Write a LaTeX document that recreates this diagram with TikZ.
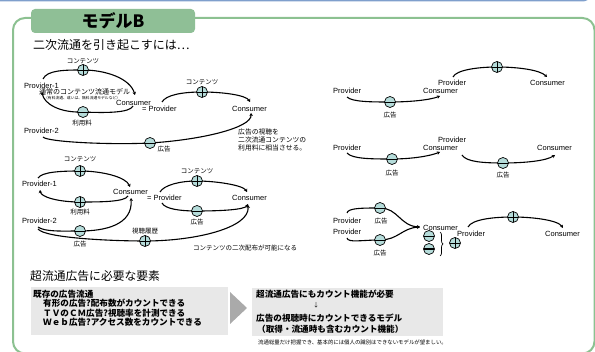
\documentclass[tikz,border=0pt]{standalone}
\usepackage{fontspec}
\setmainfont{Liberation Sans}
\newfontfamily\jp{Noto Sans CJK JP}
\usetikzlibrary{arrows.meta,decorations.pathreplacing}
\definecolor{gline}{HTML}{8CC191}
\definecolor{tabg}{HTML}{8FBF96}
\definecolor{bline}{HTML}{7F9FCC}
\definecolor{cfill}{HTML}{B5DCDA}
\definecolor{boxg}{HTML}{E8E8E8}
\definecolor{arrg}{HTML}{AAAAAA}
\tikzset{
 lbl/.style={font=\fontsize{7.5}{8}\selectfont, inner sep=0, anchor=west},
 jl/.style={font=\jp\fontsize{6.5}{7}\selectfont, inner sep=0},
 flow/.style={line width=1.1pt, -{Stealth[length=3pt,width=3.5pt]}},
 sym/.style={circle, draw, fill=cfill, minimum size=11pt, inner sep=0, line width=0.7pt},
 plusc/.style={sym, path picture={\draw[line width=0.8pt] (path picture bounding box.north) -- (path picture bounding box.south) (path picture bounding box.west) -- (path picture bounding box.east);}},
 minusc/.style={sym, path picture={\draw[line width=0.8pt] (path picture bounding box.west) -- (path picture bounding box.east);}},
 bminusc/.style={sym, path picture={\draw[line width=2pt] (path picture bounding box.west) -- (path picture bounding box.east);}},
 boxt/.style={font=\jp\bfseries\fontsize{8.6}{9}\selectfont, inner sep=0, anchor=west},
 greybox/.style={fill=boxg, inner sep=0},
}
\begin{document}
\begin{tikzpicture}[x=1pt,y=-1pt]
\useasboundingbox (0,0) rectangle (595,352);
% frame
\draw[bline, line width=2pt] (0,0.5) -- (582,0.5) to[out=0,in=240] (590,-4);
\draw[gline, line width=2pt, rounded corners=12pt] (13,18) rectangle (594.5,353.5);
\node[fill=tabg, rounded corners=4pt, minimum width=164pt, minimum height=24pt, inner sep=0] (tab) at (113,21) {};
\node[font=\jp\bfseries\fontsize{17}{18}\selectfont, inner sep=0] (tabt) at (113,21) {モデルB};
\node[font=\jp\fontsize{12}{13}\selectfont, inner sep=0, anchor=west] (title) at (33,45) {二次流通を引き起こすには…};

% ---------- top-left diagram ----------
\coordinate (c1) at (83,70);
\coordinate (m1) at (83,112);
\coordinate (m2) at (150,143);
\coordinate (c2) at (202,92);
\coordinate (u1s) at (43,79); \coordinate (u1e) at (135,95);
\coordinate (l1s) at (133,106); \coordinate (l1e) at (42,92);
\coordinate (p2s) at (43,137); \coordinate (p2e) at (251,113);
\coordinate (q1s) at (162,102); \coordinate (q1e) at (250,102);
\draw[flow] (u1s) .. controls (47,70) and (65,70) .. (c1) .. controls (105,70) and (130,78) .. (u1e);
\draw[flow] (l1s) .. controls (130,113) and (105,113) .. (m1) .. controls (60,113) and (44,104) .. (l1e);
\draw[flow] (p2s) .. controls (47,142) and (110,145) .. (m2) .. controls (200,140) and (252,128) .. (p2e);
\draw[flow] (q1s) .. controls (166,95) and (182,92) .. (c2) .. controls (222,92) and (246,95) .. (q1e);
\node[plusc] (c1n) at (c1) {};
\node[minusc] (m1n) at (m1) {};
\node[minusc] (m2n) at (m2) {};
\node[plusc] (c2n) at (c2) {};
\node[jl] (t1) at (83,61) {コンテンツ};
\node[lbl] (pv1) at (24,86) {Provider-1};
\node[font=\jp\fontsize{7}{8}\selectfont, inner sep=0, anchor=west] (nm) at (39,92) {通常のコンテンツ流通モデル};
\node[font=\jp\fontsize{3.8}{4}\selectfont, inner sep=0, anchor=west] (nms) at (44,98.5) {（有料流通、或いは、無料流通モデルなど）};
\node[lbl] (cs1) at (116,103) {Consumer};
\node[lbl] (eq1) at (142,109) {= Provider};
\node[jl] (r1) at (82,123) {利用料};
\node[lbl] (pv2) at (24,131) {Provider-2};
\node[jl] (ad1) at (164,149) {広告};
\node[jl] (t2) at (202,82) {コンテンツ};
\node[lbl] (cs2) at (232,109) {Consumer};
\node[font=\jp\fontsize{6.8}{8}\selectfont, inner sep=0, anchor=west] (n1a) at (238,132) {広告の視聴を};
\node[font=\jp\fontsize{6.8}{8}\selectfont, inner sep=0, anchor=west] (n1b) at (238,140) {二次流通コンテンツの};
\node[font=\jp\fontsize{6.8}{8}\selectfont, inner sep=0, anchor=west] (n1c) at (238,148) {利用料に相当させる。};

% ---------- second left diagram ----------
\coordinate (c3) at (80,171);
\coordinate (c4) at (80,202);
\coordinate (m3) at (80,231);
\coordinate (c5) at (145,241);
\coordinate (c6) at (197,181);
\coordinate (m4) at (197,211);
\coordinate (u2s) at (38,178); \coordinate (u2e) at (130,187);
\coordinate (l2s) at (128,196); \coordinate (l2e) at (40,190);
\coordinate (a2s) at (38,227); \coordinate (a2e) at (131,198);
\coordinate (v2s) at (38,229); \coordinate (v2e) at (248,205);
\coordinate (r2s) at (160,192); \coordinate (r2e) at (247,192);
\coordinate (s2s) at (162,203); \coordinate (s2e) at (248,204);
\draw[flow] (u2s) .. controls (42,172) and (60,171) .. (c3) .. controls (102,171) and (126,177) .. (u2e);
\draw[flow] (l2s) .. controls (125,202) and (100,202) .. (c4) .. controls (58,202) and (41,197) .. (l2e);
\draw[flow] (a2s) .. controls (45,232) and (62,231) .. (m3) .. controls (105,231) and (133,225) .. (a2e);
\draw[flow] (v2s) .. controls (45,238) and (110,241) .. (c5) .. controls (195,241) and (250,228) .. (v2e);
\draw[flow] (r2s) .. controls (164,185) and (180,181) .. (c6) .. controls (215,181) and (243,185) .. (r2e);
\draw[flow] (s2s) .. controls (165,209) and (180,211) .. (m4) .. controls (218,211) and (245,210) .. (s2e);
\node[plusc] (c3n) at (c3) {};
\node[plusc] (c4n) at (c4) {};
\node[minusc] (m3n) at (m3) {};
\node[plusc] (c5n) at (c5) {};
\node[plusc] (c6n) at (c6) {};
\node[minusc] (m4n) at (m4) {};
\node[jl] (t3) at (80,159) {コンテンツ};
\node[lbl] (pv3) at (22,184) {Provider-1};
\node[jl] (r2) at (80,212) {利用料};
\node[lbl] (cs3) at (113,192) {Consumer};
\node[lbl] (eq2) at (147,198) {= Provider};
\node[lbl] (pv4) at (22,221) {Provider-2};
\node[jl] (ad2) at (80,244) {広告};
\node[jl] (vh) at (145,231) {視聴履歴};
\node[jl] (t4) at (197,171) {コンテンツ};
\node[lbl] (cs4) at (232,198) {Consumer};
\node[jl] (ad3) at (197,222) {広告};
\node[jl, anchor=west] (n2) at (193,248) {コンテンツの二次配布が可能になる};

% ---------- right diagram 1 ----------
\coordinate (m5) at (390,102);
\coordinate (c7) at (497,67);
\coordinate (ra1s) at (347,97); \coordinate (ra1e) at (440,96);
\coordinate (rb1s) at (453,77); \coordinate (rb1e) at (547,77);
\draw[flow] (ra1s) .. controls (352,102) and (372,102) .. (m5) .. controls (410,102) and (430,100) .. (ra1e);
\draw[flow] (rb1s) .. controls (456,70) and (478,67) .. (c7) .. controls (518,67) and (540,70) .. (rb1e);
\node[minusc] (m5n) at (m5) {};
\node[plusc] (c7n) at (c7) {};
\node[lbl] (rp1) at (333,91) {Provider};
\node[jl] (ad4) at (390,115) {広告};
\node[lbl] (rp2) at (438,83) {Provider};
\node[lbl] (rc1) at (423,91) {Consumer};
\node[lbl] (rc2) at (530,83) {Consumer};

% ---------- right diagram 2 ----------
\coordinate (m6) at (392,159);
\coordinate (m7) at (503,163);
\coordinate (ra2s) at (347,153); \coordinate (ra2e) at (440,152);
\coordinate (rb2s) at (462,155); \coordinate (rb2e) at (555,155);
\draw[flow] (ra2s) .. controls (352,159) and (372,159) .. (m6) .. controls (412,159) and (430,156) .. (ra2e);
\draw[flow] (rb2s) .. controls (466,162) and (484,163) .. (m7) .. controls (524,163) and (546,161) .. (rb2e);
\node[minusc] (m6n) at (m6) {};
\node[minusc] (m7n) at (m7) {};
\node[lbl] (rp3) at (333,148) {Provider};
\node[lbl] (rp4) at (438,140) {Provider};
\node[lbl] (rc3) at (423,148) {Consumer};
\node[lbl] (rc4) at (537,148) {Consumer};
\node[jl] (ad5) at (392,173) {広告};
\node[jl] (ad6) at (503,175) {広告};

% ---------- right diagram 3 ----------
\coordinate (m8) at (380,208);
\coordinate (m9) at (380,240);
\coordinate (c8) at (513,217);
\coordinate (rc1s) at (347,213); \coordinate (rc2s) at (347,238); \coordinate (rce) at (420,227);
\coordinate (rd1s) at (468,227); \coordinate (rd1e) at (563,228);
\draw[flow] (rc1s) .. controls (348,208) and (362,208) .. (m8) .. controls (398,208) and (400,226) .. (rce);
\draw[flow] (rc2s) .. controls (348,243) and (362,240) .. (m9) .. controls (398,240) and (402,228) .. (rce);
\draw[flow] (rd1s) .. controls (472,219) and (495,217) .. (c8) .. controls (532,217) and (558,220) .. (rd1e);
\node[minusc] (m8n) at (m8) {};
\node[minusc] (m9n) at (m9) {};
\node[plusc] (c8n) at (c8) {};
\node[lbl] (rp5) at (333,221) {Provider};
\node[lbl] (rp6) at (333,232) {Provider};
\node[jl] (ad7) at (381,221) {広告};
\node[jl] (ad8) at (380,253) {広告};
\node[lbl] (rc5) at (423,228) {Consumer};
\node[minusc] (s1) at (429,236) {};
\node[bminusc] (s2) at (429,249) {};
\draw[line width=0.7pt, decorate, decoration={brace, amplitude=3pt}] (440,232) -- (440,256);
\node[plusc] (s3) at (455,243) {};
\node[lbl] (rp7) at (457,234) {Provider};
\node[lbl] (rc6) at (545,234) {Consumer};

% ---------- bottom ----------
\node[font=\jp\fontsize{11.8}{12}\selectfont, inner sep=0, anchor=west] (h2) at (30,276) {超流通広告に必要な要素};
\node[greybox, minimum width=197pt, minimum height=48pt] (bx1) at (129.5,311) {};
\node[boxt] (b1a) at (33,294) {既存の広告流通};
\node[boxt] (b1b) at (43,303.5) {有形の広告?配布数がカウントできる};
\node[boxt] (b1c) at (43,313) {ＴＶのＣＭ広告?視聴率を計測できる};
\node[boxt] (b1d) at (43,322.5) {Ｗｅｂ広告?アクセス数をカウントできる};
\fill[arrg] (230,292) -- (247,308) -- (230,324) -- cycle;
\node[greybox, minimum width=191pt, minimum height=48pt] (bx2) at (347.5,312) {};
\node[boxt] (b2a) at (256,294) {超流通広告にもカウント機能が必要};
\node[font=\jp\fontsize{6}{7}\selectfont, inner sep=0] (b2arr) at (316,305) {↓};
\node[boxt] (b2b) at (256,318) {広告の視聴時にカウントできるモデル};
\node[boxt] (b2c) at (257,329) {（取得・流通時も含むカウント機能）};
\node[font=\jp\fontsize{5.4}{6}\selectfont, inner sep=0, anchor=west] (note) at (258,342) {流通総量だけ把握でき、基本的には個人の識別はできないモデルが望ましい。};
\end{tikzpicture}
\end{document}
